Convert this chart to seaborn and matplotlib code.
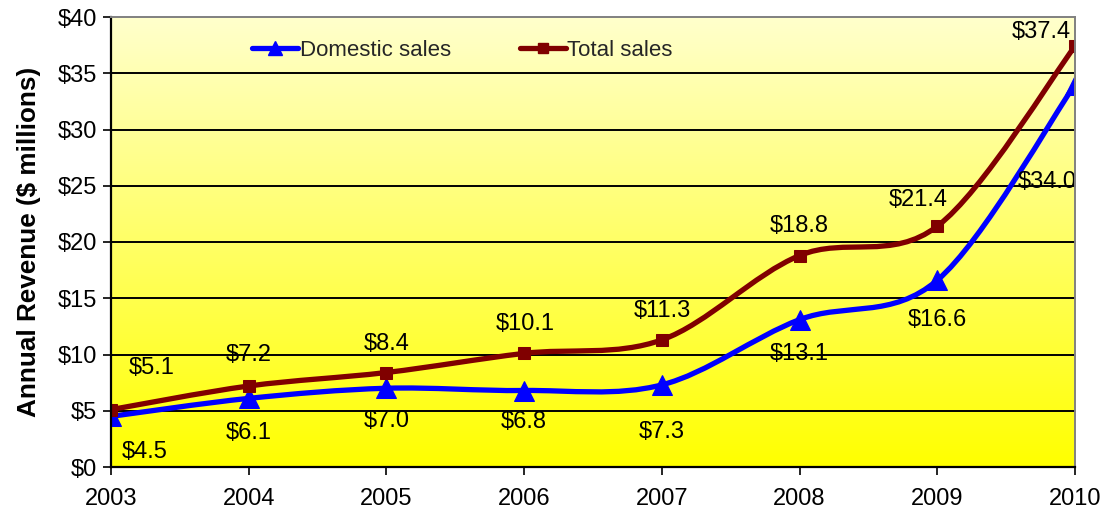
import numpy as np
import pandas as pd
import matplotlib
matplotlib.use("Agg")
import matplotlib.pyplot as plt
from matplotlib.path import Path
from matplotlib.patches import PathPatch
from matplotlib.lines import Line2D
from matplotlib.colors import LinearSegmentedColormap
import seaborn as sns

years = [2003, 2004, 2005, 2006, 2007, 2008, 2009, 2010]
domestic = [4.5, 6.1, 7.0, 6.8, 7.3, 13.1, 16.6, 34.0]
total = [5.1, 7.2, 8.4, 10.1, 11.3, 18.8, 21.4, 37.4]
y_ticks = [0, 5, 10, 15, 20, 25, 30, 35, 40]

BLUE = "#0000FF"
MAROON = "#800000"

sns.set_theme(style="white")
plt.rcParams["font.family"] = ["Liberation Sans", "DejaVu Sans"]

df = pd.DataFrame({"year": years, "Domestic sales": domestic, "Total sales": total})

fig = plt.figure(figsize=(11.07, 5.15), dpi=100)
ax = fig.add_axes([111 / 1107, 1 - 467 / 515, (1075 - 111) / 1107, (467 - 17) / 515])

ax.set_xlim(2003, 2010)
ax.set_ylim(0, 40)

# yellow gradient backdrop
grad = np.linspace(0, 1, 256).reshape(-1, 1)
cmap = LinearSegmentedColormap.from_list("bg", ["#FFFF00", "#FFFF66", "#FFFFCC"])
ax.imshow(grad, extent=[0, 1, 0, 1], transform=ax.transAxes, aspect="auto",
          cmap=cmap, origin="lower", zorder=0)

for t in y_ticks[1:-1]:
    ax.axhline(t, color="black", lw=1.4, zorder=1)


def smooth_path(xs, ys):
    """Cubic Bezier path through the points (Excel-style smoothing)."""
    pts = np.column_stack([xs, ys]).astype(float)
    n = len(pts)
    verts = [pts[0]]
    codes = [Path.MOVETO]
    for i in range(n - 1):
        p0 = pts[i - 1] if i > 0 else pts[i]
        p1 = pts[i]
        p2 = pts[i + 1]
        p3 = pts[i + 2] if i + 2 < n else pts[i + 1]
        c1 = p1 + (p2 - p0) / 6.0
        c2 = p2 - (p3 - p1) / 6.0
        verts += [c1, c2, p2]
        codes += [Path.CURVE4] * 3
    return Path(verts, codes)


for col, color in [("Domestic sales", BLUE), ("Total sales", MAROON)]:
    ax.add_patch(PathPatch(smooth_path(df["year"], df[col]), facecolor="none",
                           edgecolor=color, lw=3.8, capstyle="round", zorder=3))

sns.lineplot(data=df, x="year", y="Domestic sales", ax=ax, color=BLUE, linestyle="",
             marker="^", markersize=15, markeredgecolor=BLUE, zorder=4, legend=False)
sns.lineplot(data=df, x="year", y="Total sales", ax=ax, color=MAROON, linestyle="",
             marker="s", markersize=8.5, markeredgecolor=MAROON, zorder=4, legend=False)

# value labels (pixel offsets from each point)
tot_off = [(41, 42), (0, 31), (0, 29), (1, 29), (1, 29), (0, 29), (-19, 26), (-34, 14)]
dom_off = [(34, -36), (0, -35), (0, -33), (0, -31), (0, -47), (0, -34), (0, -40), (-28, -98)]
for x, v, o in zip(years, total, tot_off):
    ax.annotate(f"${v:.1f}", (x, v), xytext=o, textcoords="offset pixels",
                ha="center", va="center", fontsize=17, color="black", zorder=5,
                annotation_clip=False)
for x, v, o in zip(years, domestic, dom_off):
    ax.annotate(f"${v:.1f}", (x, v), xytext=o, textcoords="offset pixels",
                ha="center", va="center", fontsize=17, color="black", zorder=5,
                annotation_clip=False)

ax.set_xticks(years)
ax.set_xticklabels([str(y) for y in years])
ax.set_yticks(y_ticks)
ax.set_yticklabels([f"${t}" for t in y_ticks])
ax.tick_params(axis="both", direction="out", length=6, width=1.2, color="black",
               labelsize=17, labelcolor="black", bottom=True, left=True)
ax.tick_params(axis="x", pad=9)
ax.tick_params(axis="y", pad=4)
ax.set_xlabel("")
ax.set_ylabel("Annual Revenue ($ millions)", fontsize=18.8, fontweight="bold",
              color="black", labelpad=12)

for side in ["left", "bottom"]:
    ax.spines[side].set_color("black")
    ax.spines[side].set_linewidth(1.6)
for side in ["top", "right"]:
    ax.spines[side].set_color("#808080")
    ax.spines[side].set_linewidth(1.4)
for s in ax.spines.values():
    s.set_zorder(6)

handles = [
    Line2D([], [], color=BLUE, lw=3.8, marker="^", markersize=10, solid_capstyle="round"),
    Line2D([], [], color=MAROON, lw=3.8, marker="s", markersize=7, solid_capstyle="round"),
]
ax.legend(handles, ["Domestic sales", "Total sales"], loc="center left",
          bbox_to_anchor=(0.146, 0.925), ncol=2, frameon=False, fontsize=16,
          handlelength=2.1, handletextpad=0.05, columnspacing=3.1,
          borderpad=0, borderaxespad=0)

fig.savefig("out.png", dpi=100)
